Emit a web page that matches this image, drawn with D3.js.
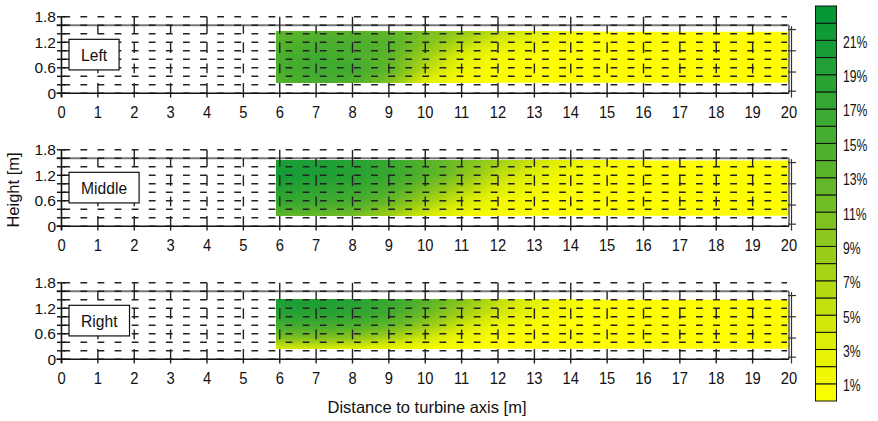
<!DOCTYPE html>
<html>
<head>
<meta charset="utf-8">
<script src="https://cdn.jsdelivr.net/npm/d3@7"></script>
<style>
  body { margin: 0; background: #fff; }
  svg text { font-family: "Liberation Sans", Arial, sans-serif; fill: #111; }
</style>
</head>
<body>
<div id="chart"></div>
<script>
// panels, ticks
var panelNames = ["Left", "Middle", "Right"];
var xTicks = [0, 1, 2, 3, 4, 5, 6, 7, 8, 9, 10, 11, 12, 13, 14, 15, 16, 17, 18, 19, 20];
var yTicks = [0, 0.6, 1.2, 1.8];
var legendTicks = [1, 3, 5, 7, 9, 11, 13, 15, 17, 19, 21];
var legendMax = 23;

// measurement grid (distance in m, heights in m per panel)
var gridX = [6, 7, 8, 9, 10, 11, 12, 13, 14, 15, 16, 17, 18, 19, 20];
var leftHeights = [0.25, 0.55, 0.85, 1.15, 1.45];
var middleHeights = [0.25, 0.575, 0.9, 1.225, 1.55];
var rightHeights = [0.25, 0.5375, 0.825, 1.1125, 1.4];

// values in %, rows from bottom to top
var leftValues = [
  [14, 15, 14, 10, 3, 0.8, 0.2, 0, 0, 0, 0, 0, 0, 0, 0],
  [15, 16, 16, 13, 6, 1.5, 0.4, 0, 0, 0, 0, 0, 0, 0, 0],
  [15, 16, 15, 13, 8, 3, 1, 0.2, 0, 0, 0, 0, 0, 0, 0],
  [14, 15, 15, 14, 10, 6, 3, 1.2, 0.3, 0, 0, 0, 0, 0, 0],
  [13, 14, 14, 13, 11, 9, 6, 3.5, 1.2, 0.3, 0, 0, 0, 0, 0]
];
var middleValues = [
  [13, 12, 11, 8, 4, 1.5, 0.5, 0, 0, 0, 0, 0, 0, 0, 0],
  [17, 16, 15, 12, 8, 4, 1.5, 0.5, 0, 0, 0, 0, 0, 0, 0],
  [19, 18, 17, 15, 11, 7, 3.5, 1.5, 0.5, 0, 0, 0, 0, 0, 0],
  [21, 20, 19, 17, 14, 10, 6, 3, 1, 0.3, 0, 0, 0, 0, 0],
  [20, 20, 19, 17, 14, 11, 8, 5, 2.5, 1, 0.3, 0, 0, 0, 0]
];
var rightValues = [
  [4, 4, 3, 2, 1, 0.3, 0, 0, 0, 0, 0, 0, 0, 0, 0],
  [11, 11, 10, 8, 5, 2, 0.5, 0, 0, 0, 0, 0, 0, 0, 0],
  [16, 16, 15, 13, 9, 5, 2, 0.5, 0, 0, 0, 0, 0, 0, 0],
  [19, 19, 18, 16, 12, 8, 4.5, 2, 0.5, 0, 0, 0, 0, 0, 0],
  [20, 20, 19, 17, 14, 10, 6, 3, 1, 0.2, 0, 0, 0, 0, 0]
];

var panelHeights = [leftHeights, middleHeights, rightHeights];
var panelValues = [leftValues, middleValues, rightValues];

// layout
var fieldStart = 5.9;
var panelBase = [93.3, 226.3, 359.3];
var panelSpan = 76.5;

var color = d3.scaleLinear()
  .domain([0, 4, 8, 12, 16, 20, 23])
  .range(["#ffff00", "#d8eb08", "#a0d018", "#6aba28", "#40ab31", "#1d9e36", "#009536"]);

var svg = d3.select("#chart").append("svg")
  .attr("width", 878)
  .attr("height", 421);

var x = d3.scaleLinear().domain([0, 20]).range([61.5, 789]);

panelNames.forEach(function(name, p) {
  var base = panelBase[p];
  var y = d3.scaleLinear().domain([0, 1.8]).range([base, base - panelSpan]);
  var g = svg.append("g");

  // contour field
  var hs = panelHeights[p];
  var rows = panelValues[p];
  var nx = gridX.length, ny = hs.length;
  var flat = [];
  rows.forEach(function(r) { r.forEach(function(v) { flat.push(v); }); });
  var dx = gridX[1] - gridX[0];
  var dy = (hs[ny - 1] - hs[0]) / (ny - 1);

  var clipId = "clip" + p;
  g.append("clipPath").attr("id", clipId)
    .append("rect")
    .attr("x", x(fieldStart))
    .attr("y", y(hs[ny - 1]))
    .attr("width", x(20) - x(fieldStart))
    .attr("height", y(hs[0]) - y(hs[ny - 1]));

  var proj = d3.geoTransform({
    point: function(cx, cy) {
      this.stream.point(x(gridX[0] + (cx - 0.5) * dx), y(hs[0] + (cy - 0.5) * dy));
    }
  });
  var path = d3.geoPath(proj);
  var contours = d3.contours()
    .size([nx, ny])
    .thresholds(d3.range(0, legendMax, 0.25))(flat);

  g.append("g").attr("clip-path", "url(#" + clipId + ")")
    .selectAll("path")
    .data(contours)
    .enter().append("path")
    .attr("d", path)
    .attr("fill", d => color(d.value + 0.125))
    .attr("stroke", d => color(d.value + 0.125))
    .attr("stroke-width", 0.3);

  // frame top line (gray)
  g.append("line")
    .attr("x1", x(0) - 5).attr("x2", x(20))
    .attr("y1", y(1.6)).attr("y2", y(1.6))
    .attr("stroke", "#777").attr("stroke-width", 2);

  // horizontal dashed grid every 0.2 m
  g.append("g").selectAll("line")
    .data(d3.range(0, 1.81, 0.2))
    .enter().append("line")
    .attr("x1", x(0) + 1.8).attr("x2", x(20) - 2)
    .attr("y1", d => y(d)).attr("y2", d => y(d))
    .attr("stroke", "#222").attr("stroke-width", 1.5)
    .attr("stroke-dasharray", "6.8,10.3");

  // vertical broken grid lines
  xTicks.slice(1, 20).forEach(function(t) {
    var top = t % 2 === 0 ? 1.8 : 1.6;
    var segs = [[1.4, top], [0.95, 1.2], [0.47, 0.7], [-0.1, 0.24]];
    g.append("g").selectAll("line")
      .data(segs)
      .enter().append("line")
      .attr("x1", x(t)).attr("x2", x(t))
      .attr("y1", d => y(d[0])).attr("y2", d => y(d[1]))
      .attr("stroke", "#222").attr("stroke-width", 1.4);
  });

  // right frame edge and secondary marks
  g.append("line")
    .attr("x1", x(20)).attr("x2", x(20))
    .attr("y1", y(1.6)).attr("y2", y(0))
    .attr("stroke", "#666").attr("stroke-width", 1.6);
  g.append("line")
    .attr("x1", x(20) + 2.5).attr("x2", x(20) + 2.5)
    .attr("y1", y(1.58)).attr("y2", y(-0.1))
    .attr("stroke", "#333").attr("stroke-width", 1.2);
  g.append("g").selectAll("line")
    .data([1.5, 1.0, 0.5, 0.05])
    .enter().append("line")
    .attr("x1", x(20) - 1).attr("x2", x(20) + 7)
    .attr("y1", d => y(d)).attr("y2", d => y(d))
    .attr("stroke", "#333").attr("stroke-width", 1.2);

  // axes
  g.append("line")
    .attr("x1", x(0) - 5).attr("x2", x(20))
    .attr("y1", y(0)).attr("y2", y(0))
    .attr("stroke", "#111").attr("stroke-width", 1.6);
  g.append("line")
    .attr("x1", x(0)).attr("x2", x(0))
    .attr("y1", y(1.8)).attr("y2", y(0) + 4)
    .attr("stroke", "#111").attr("stroke-width", 1.6);
  g.append("g").selectAll("line")
    .data(d3.range(0, 1.81, 0.2))
    .enter().append("line")
    .attr("x1", x(0) - 4.5).attr("x2", x(0) + 4)
    .attr("y1", d => y(d)).attr("y2", d => y(d))
    .attr("stroke", "#111").attr("stroke-width", 1.4);
  g.append("line")
    .attr("x1", x(0)).attr("x2", x(0))
    .attr("y1", y(0)).attr("y2", y(0) + 4)
    .attr("stroke", "#111").attr("stroke-width", 1.4);

  // tick labels
  g.append("g").selectAll("text")
    .data(xTicks)
    .enter().append("text")
    .attr("transform", d => "translate(" + x(d) + "," + (base + 19) + ") scale(0.92,1)")
    .attr("text-anchor", "middle")
    .attr("dy", "0.36em")
    .attr("font-size", 16)
    .text(d => d);

  g.append("g").selectAll("text")
    .data(yTicks)
    .enter().append("text")
    .attr("x", 56)
    .attr("y", d => y(d))
    .attr("text-anchor", "end")
    .attr("dy", "0.36em")
    .attr("font-size", 15.5)
    .text(d => d);

  // name box
  var bx = 69, by = y(1.27), bh = y(0.55) - y(1.27);
  var box = g.append("rect")
    .attr("x", bx).attr("y", by)
    .attr("height", bh)
    .attr("fill", "#fff").attr("stroke", "#111").attr("stroke-width", 1.2);
  var label = g.append("text")
    .attr("font-size", 17)
    .attr("text-anchor", "middle")
    .attr("dy", "0.36em")
    .text(name);
  var tw = label.node().getComputedTextLength() * 0.92;
  var bw = tw + 24;
  box.attr("width", bw);
  label.attr("transform", "translate(" + (bx + bw / 2) + "," + (by + bh / 2) + ") scale(0.92,1)");
});

// axis titles
svg.append("text")
  .attr("transform", "translate(13,190) rotate(-90)")
  .attr("text-anchor", "middle")
  .attr("dy", "0.36em")
  .attr("font-size", 16.5)
  .text("Height [m]");

svg.append("text")
  .attr("x", 427)
  .attr("y", 407)
  .attr("text-anchor", "middle")
  .attr("dy", "0.36em")
  .attr("font-size", 16.5)
  .text("Distance to turbine axis [m]");

// colour bar
var ly = d3.scaleLinear().domain([0, legendMax]).range([401, 6]);
var legend = svg.append("g");
legend.selectAll("rect")
  .data(d3.range(0, legendMax))
  .enter().append("rect")
  .attr("x", 815.5)
  .attr("width", 21)
  .attr("y", d => ly(d + 1))
  .attr("height", d => ly(d) - ly(d + 1))
  .attr("fill", d => color(d + 0.5))
  .attr("stroke", "#111")
  .attr("stroke-width", 1);

legend.selectAll("text")
  .data(legendTicks)
  .enter().append("text")
  .attr("transform", d => "translate(843," + (ly(d) + 1.5) + ") scale(0.74,1)")
  .attr("dy", "0.36em")
  .attr("font-size", 16.5)
  .text(d => d + "%");
</script>
</body>
</html>
